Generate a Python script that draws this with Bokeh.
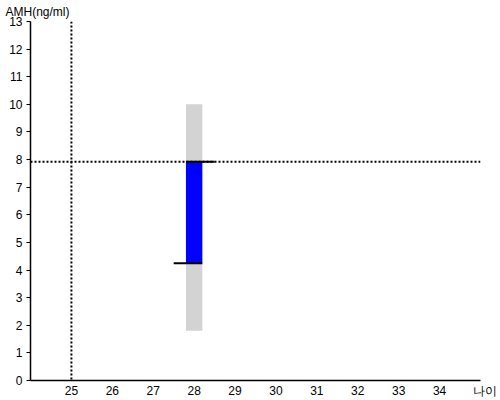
from bokeh.plotting import figure
from bokeh.models import Span, FixedTicker, Range1d, Title
from bokeh.embed import file_html
from bokeh.resources import INLINE

# ---- data ----
ages = [28]
ref_low = [1.8]     # reference range lower (gray)
ref_high = [10.0]   # reference range upper (gray)
amh_low = [4.25]    # patient range lower (blue)
amh_high = [7.92]   # patient range upper (blue)
marker_age = 25
marker_amh = 7.92
x_ticks = [25, 26, 27, 28, 29, 30, 31, 32, 33, 34]
y_ticks = list(range(0, 14))
x_title = "나이"
y_title = "AMH(ng/ml)"

FONT = "Liberation Sans"
X_END = 35.0

p = figure(width=500, height=400, output_backend="svg", toolbar_location=None,
           x_range=Range1d(24.0, X_END), y_range=Range1d(0, 13),
           min_border_left=30, min_border_right=20, min_border_top=20, min_border_bottom=20)
p.outline_line_color = None
p.xgrid.visible = False
p.ygrid.visible = False

bw = 0.4
p.vbar(x=ages, bottom=ref_low, top=ref_high, width=bw, fill_color="#d3d3d3", line_color=None)
p.vbar(x=ages, bottom=amh_low, top=amh_high, width=bw, fill_color="#0000ff", line_color=None)

# black end lines
p.segment(x0=[a - 0.5 for a in ages], x1=[a + bw / 2 for a in ages], y0=amh_low, y1=amh_low,
          line_color="black", line_width=2)
p.segment(x0=[a - bw / 2 for a in ages], x1=[a + 0.5 for a in ages], y0=amh_high, y1=amh_high,
          line_color="black", line_width=2)

p.add_layout(Span(location=marker_age, dimension="height", line_color="black",
                  line_width=2, line_dash="2 2"))
p.add_layout(Span(location=marker_amh, dimension="width", line_color="black",
                  line_width=2, line_dash="2 2"))

# axes
p.xaxis.ticker = FixedTicker(ticks=x_ticks + [X_END])
p.xaxis.major_label_overrides = {X_END: "\u00a0\u00a0\u00a0" + x_title}
p.yaxis.ticker = FixedTicker(ticks=y_ticks)
for ax in (p.xaxis[0], p.yaxis[0]):
    ax.axis_line_color = "black"
    ax.axis_line_width = 1.5
    ax.major_label_text_font = FONT
    ax.major_label_text_font_size = "12px"
    ax.major_label_text_color = "black"
    ax.minor_tick_line_color = None
p.xaxis.major_tick_line_color = None
p.xaxis.major_tick_out = 0
p.xaxis.major_tick_in = 0
p.xaxis.major_label_standoff = 3
p.yaxis.major_tick_line_color = "black"
p.yaxis.major_tick_out = 4
p.yaxis.major_tick_in = 0
p.yaxis.major_label_standoff = 4

p.add_layout(Title(text=y_title, align="left", offset=-25, standoff=5,
                   text_font=FONT, text_font_size="12px", text_font_style="normal",
                   text_color="black"), "above")

open("out.html", "w").write(file_html(p, INLINE))
